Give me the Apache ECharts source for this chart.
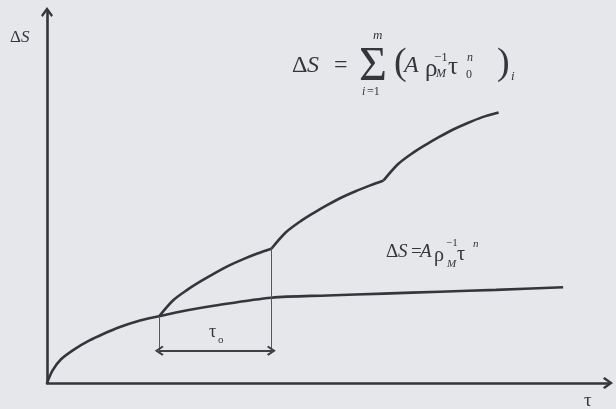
<!DOCTYPE html>
<html>
<head>
<meta charset="utf-8">
<script src="https://cdn.jsdelivr.net/npm/echarts@6/dist/echarts.min.js"></script>
<style>
  html, body { margin: 0; padding: 0; background: #e5e7eb; }
  #chart { width: 616px; height: 409px; }
</style>
</head>
<body>
<div id="chart"></div>
<script>
  // single-layer curve dS = A rho^-1 tau^n
  const lowerTau = [0, 1, 2.5, 5, 7.5, 10, 13, 16, 20, 25, 30, 40, 50, 60, 70, 80, 92];
  const lowerDS = [0, 3.4, 6.4, 9.2, 11.4, 13.2, 15.1, 16.6, 18.0, 19.6, 20.9, 23.0, 23.6, 24.1, 24.6, 25.1, 25.8];

  // stacked segments, one per tau0 period
  const seg1Tau = [20, 22.5, 25, 27.5, 30, 32.5, 35, 37.5, 40];
  const seg1DS = [18.0, 22.3, 25.1, 27.5, 29.7, 31.7, 33.4, 34.9, 36.2];
  const seg2Tau = [40, 42.5, 45, 47.5, 50, 52.5, 55, 57.5, 60];
  const seg2DS = [36.2, 40.5, 43.4, 45.8, 48.0, 50.0, 51.7, 53.2, 54.6];
  const seg3Tau = [60, 62.5, 65, 67.5, 70, 72.5, 75, 77.5, 80.5];
  const seg3DS = [54.6, 58.9, 61.8, 64.2, 66.4, 68.4, 70.1, 71.6, 72.9];

  // tau0 bracket
  const tau0Start = 20;
  const tau0End = 40;
  const bracketLow = 8.0;
  const bracketArrowY = 8.7;

  const ink = '#35363b';
  const serif = '"Liberation Serif", "DejaVu Serif", serif';
  const chevron = 'path://M5,0 L10,7 L8.6,8.4 L5,3.4 L1.4,8.4 L0,7 Z';

  function zip(xs, ys) {
    return xs.map((x, i) => [x, ys[i]]);
  }

  function curve(xs, ys) {
    return {
      type: 'line',
      data: zip(xs, ys),
      smooth: 0.3,
      symbol: 'none',
      silent: true,
      lineStyle: { color: ink, width: 2.6 },
      z: 3
    };
  }

  function txt(x, y, s, size, italic) {
    return {
      type: 'text',
      x: x,
      y: y,
      silent: true,
      style: {
        text: s,
        font: (italic ? 'italic ' : '') + size + 'px ' + serif,
        fill: ink,
        verticalAlign: 'middle'
      }
    };
  }

  let chart = echarts.init(document.getElementById('chart'));
  chart.setOption({
    animation: false,
    backgroundColor: '#e5e7eb',
    grid: { left: 47, right: 8, top: 12, bottom: 26 },
    xAxis: {
      type: 'value',
      min: 0,
      max: 100,
      axisLine: {
        show: true,
        onZero: false,
        symbol: ['none', chevron],
        symbolSize: [12, 12],
        lineStyle: { color: ink, width: 2.6 }
      },
      axisTick: { show: false },
      axisLabel: { show: false },
      splitLine: { show: false }
    },
    yAxis: {
      type: 'value',
      min: 0,
      max: 100,
      axisLine: {
        show: true,
        onZero: false,
        symbol: ['none', chevron],
        symbolSize: [12, 12],
        lineStyle: { color: ink, width: 2.6 }
      },
      axisTick: { show: false },
      axisLabel: { show: false },
      splitLine: { show: false }
    },
    series: [
      curve(lowerTau, lowerDS),
      curve(seg1Tau, seg1DS),
      curve(seg2Tau, seg2DS),
      curve(seg3Tau, seg3DS),
      {
        type: 'line',
        data: [],
        markLine: {
          silent: true,
          symbol: 'none',
          label: { show: false },
          lineStyle: { color: '#55565b', width: 1, type: 'solid' },
          data: [
            [{ coord: [tau0Start, bracketLow] }, { coord: [tau0Start, seg1DS[0]] }],
            [{ coord: [tau0End, bracketLow] }, { coord: [tau0End, seg1DS[seg1DS.length - 1]] }]
          ]
        }
      },
      {
        type: 'line',
        data: [],
        markLine: {
          silent: true,
          symbol: [chevron, chevron],
          symbolSize: [10, 9],
          label: { show: false },
          lineStyle: { color: '#3f4045', width: 1.8, type: 'solid' },
          data: [
            [{ coord: [tau0Start, bracketArrowY] }, { coord: [tau0End, bracketArrowY] }]
          ]
        }
      }
    ],
    graphic: [
      // axis names
      txt(10, 38, 'Δ', 17, false),
      txt(21, 38, 'S', 17, true),
      txt(584, 401, 'τ', 19, false),
      // tau0 label
      txt(209, 332, 'τ', 18, false),
      txt(218, 340, 'o', 11, false),
      // top formula
      txt(292, 66, 'Δ', 24, false),
      txt(307, 66, 'S', 24, true),
      txt(334, 66, '=', 24, false),
      txt(359, 67, 'Σ', 48, false),
      txt(373, 36, 'm', 13, true),
      txt(362, 92, 'i', 12, true),
      txt(367, 92, '=1', 12, false),
      txt(394, 64, '(', 38, false),
      txt(404, 66, 'A', 24, true),
      txt(425, 69, 'ρ', 25, false),
      txt(434, 58, '−1', 13, false),
      txt(436, 74, 'M', 12, true),
      txt(448, 67, 'τ', 25, false),
      txt(467, 58, 'n', 12, true),
      txt(466, 75, '0', 12, false),
      txt(497, 64, ')', 38, false),
      txt(511, 77, 'i', 13, true),
      // single-layer formula
      txt(386, 252, 'Δ', 19, false),
      txt(398, 252, 'S', 19, true),
      txt(411, 252, '=', 19, false),
      txt(420, 252, 'A', 19, true),
      txt(434, 256, 'ρ', 20, false),
      txt(446, 243, '−1', 11, false),
      txt(447, 264, 'M', 11, true),
      txt(457, 255, 'τ', 20, false),
      txt(473, 244, 'n', 11, true)
    ]
  });
  window.onresize = function () {
    chart.resize();
  };
</script>
</body>
</html>
